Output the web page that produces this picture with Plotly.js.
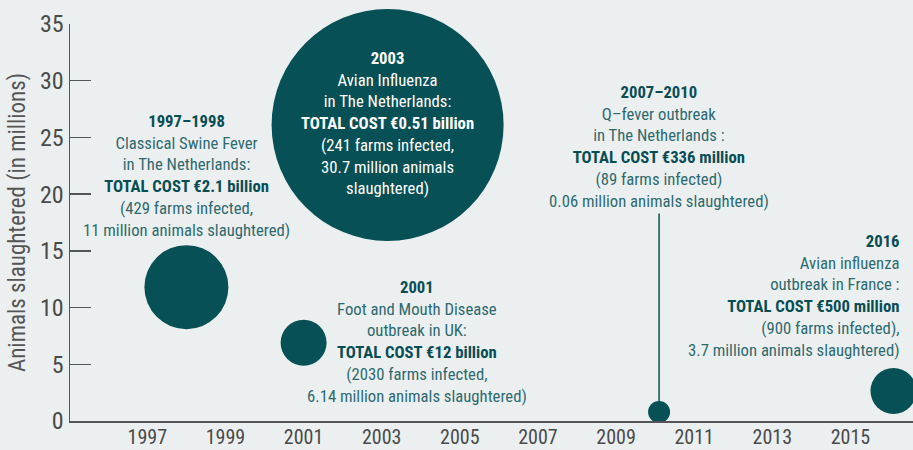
<!DOCTYPE html>
<html>
<head>
<meta charset="utf-8">
<script src="https://cdn.plot.ly/plotly-3.0.1.min.js"></script>
<style>html,body{margin:0;padding:0;background:#ECEFF0;}#chart{width:913px;height:450px;}</style>
</head>
<body>
<div id="chart"></div>
<script>
// ---- data ----
const outbreakYear = [1998, 2001, 2003.15, 2010.1, 2016.1];
const animalsMillions = [11.8, 6.9, 26.1, 0.8, 2.65];
const bubbleValue = [42, 23, 116, 11, 23];
const xTickVals = [1997, 1999, 2001, 2003, 2005, 2007, 2009, 2011, 2013, 2015];
const xTickText = ['1997', '1999', '2001', '2003', '2005', '2007', '2009', '2011', '2013', '2015'];
const yTickVals = [0, 5, 10, 15, 20, 25, 30, 35];
const yTickText = ['0', '5', '10', '15', '20', '25', '30', '35'];

const labelPeriod = ['1997–1998', '2003', '2001', '2007–2010', '2016'];
const labelLine1 = ['Classical Swine Fever', 'Avian Influenza', 'Foot and Mouth Disease', 'Q–fever outbreak', 'Avian influenza'];
const labelLine2 = ['in The Netherlands:', 'in The Netherlands:', 'outbreak in UK:', 'in The Netherlands :', 'outbreak in France :'];
const labelTotal = ['TOTAL COST €2.1 billion', 'TOTAL COST €0.51 billion', 'TOTAL COST €12 billion', 'TOTAL COST €336 million', 'TOTAL COST €500 million'];
const labelDetail = [
  ['(429 farms infected,', '11 million animals slaughtered)'],
  ['(241 farms infected,', '30.7 million animals', 'slaughtered)'],
  ['(2030 farms infected,', '6.14 million animals slaughtered)'],
  ['(89 farms infected)', '0.06 million animals slaughtered)'],
  ['(900 farms infected),', '3.7 million animals slaughtered)']
];
const labelX = [1998, 2003.15, 2003.9, 2010.1, 2016.33];
const labelY = [21.6, 26.27, 7.0, 24.2, 11.0];
const leaderTop = 18.3; // top of the leader line for the Q-fever bubble

// ---- styles ----
const BG = '#ECEFF0';
const BUBBLE = '#075056';
const TXT = '#2C6A6F';
const TXTB = '#084D54';
const FONT = 'Liberation Sans Narrow, Arial Narrow, Roboto Condensed, sans-serif';

const annotations = labelPeriod.map((p, i) => {
  const inside = i === 1;
  const bcol = inside ? '#FFFFFF' : TXTB;
  const ncol = inside ? '#FFFFFF' : TXT;
  const lines = [
    `<span style="color:${bcol}"><b>${p}</b></span>`,
    labelLine1[i],
    labelLine2[i],
    `<span style="color:${bcol}"><b>${labelTotal[i]}</b></span>`
  ].concat(labelDetail[i]);
  const right = i === 4;
  return {
    x: labelX[i], y: labelY[i], xref: 'x', yref: 'y',
    text: lines.join('<br>'),
    showarrow: false,
    xanchor: right ? 'right' : 'center',
    yanchor: 'middle',
    align: right ? 'right' : 'center',
    font: {family: FONT, size: 16.7, color: ncol}
  };
});

const trace = {
  type: 'scatter',
  mode: 'markers',
  x: outbreakYear,
  y: animalsMillions,
  marker: {
    size: bubbleValue,
    sizemode: 'diameter',
    sizeref: 0.5,
    color: BUBBLE,
    opacity: 1,
    line: {width: 0}
  },
  cliponaxis: false,
  hoverinfo: 'skip'
};

const layout = {
  width: 913, height: 450,
  margin: {l: 70, r: 0, t: 24, b: 29, pad: 0},
  paper_bgcolor: BG, plot_bgcolor: BG,
  showlegend: false,
  font: {family: FONT, color: '#4A4A4A'},
  xaxis: {
    range: [1995.02, 2016.6],
    tickmode: 'array', tickvals: xTickVals, ticktext: xTickText,
    ticks: '', showgrid: false, zeroline: false,
    showline: true, linecolor: '#555555', linewidth: 1.5,
    tickfont: {family: FONT, size: 20, color: '#4A4A4A'},
    ticklabelstandoff: -3,
    fixedrange: true
  },
  yaxis: {
    range: [0, 35],
    tickmode: 'array', tickvals: yTickVals, ticktext: yTickText,
    ticks: 'inside', ticklen: 21, tickwidth: 1.5, tickcolor: '#555555',
    showgrid: false, zeroline: false,
    showline: true, linecolor: '#555555', linewidth: 1.5,
    tickfont: {family: FONT, size: 24, color: '#4A4A4A'},
    title: {text: 'Animals slaughtered (in millions)', font: {family: FONT, size: 23, color: '#555555'}, standoff: 8},
    fixedrange: true
  },
  shapes: [{
    type: 'line', layer: 'below', xref: 'x', yref: 'y',
    x0: outbreakYear[3], x1: outbreakYear[3], y0: animalsMillions[3], y1: leaderTop,
    line: {color: BUBBLE, width: 1.5}
  }],
  annotations: annotations
};

Plotly.newPlot('chart', [trace], layout, {displayModeBar: false, staticPlot: true});
</script>
</body>
</html>
